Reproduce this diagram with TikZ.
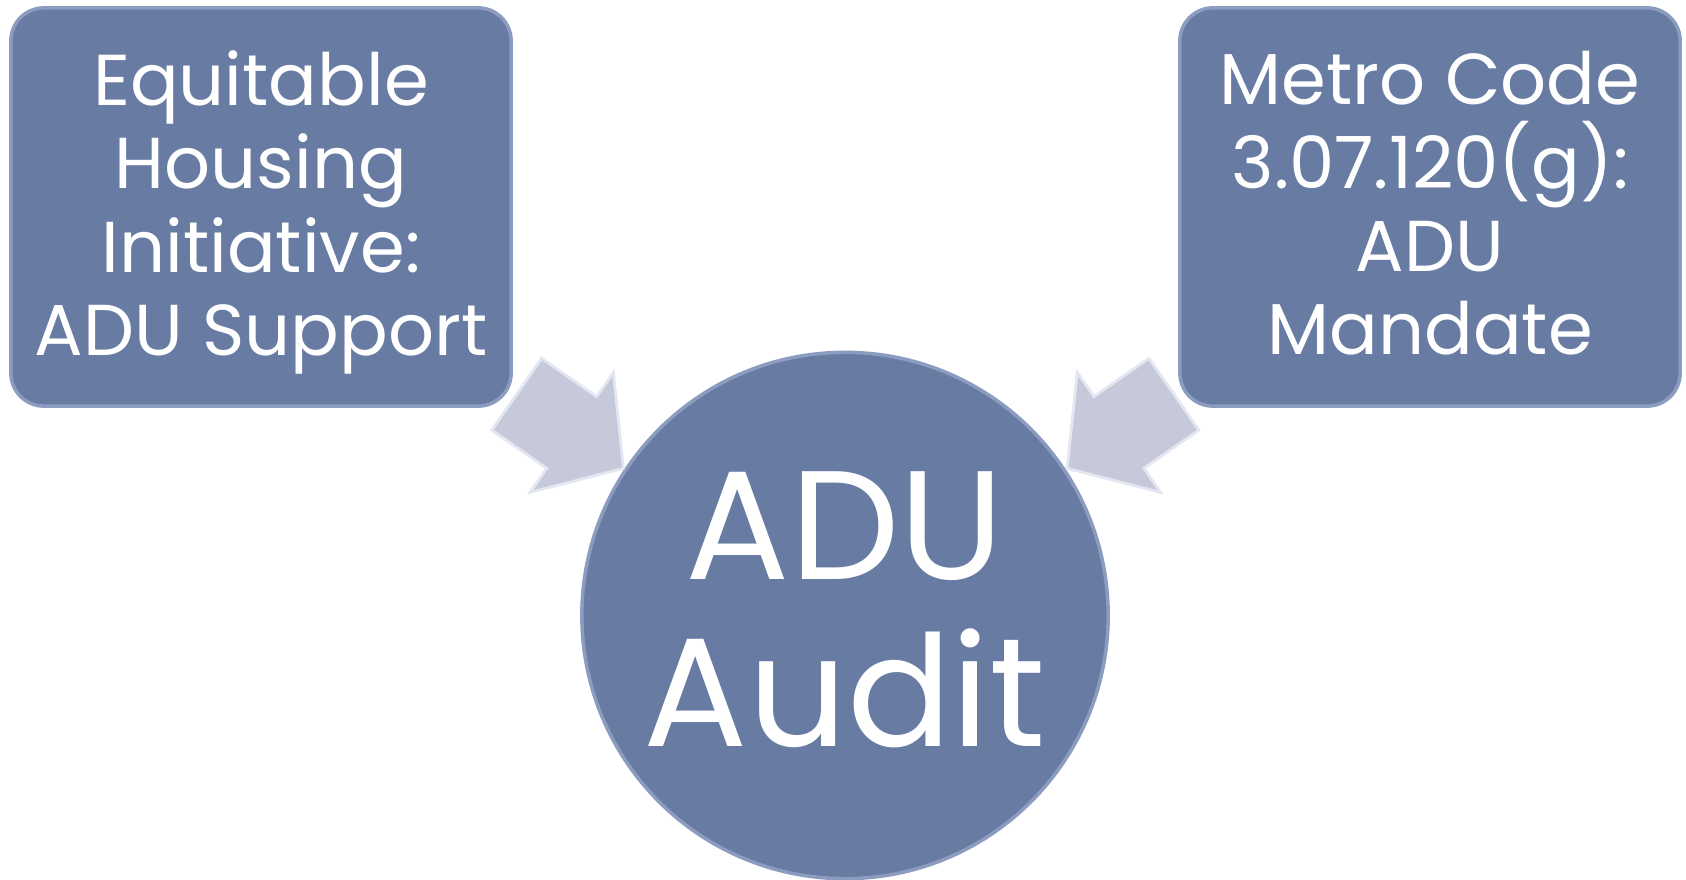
\documentclass[tikz,border=0pt]{standalone}
\usepackage{fontspec}
\setmainfont{Poppins}
\definecolor{slate}{RGB}{104,123,163}
\definecolor{slateedge}{RGB}{140,155,192}
\definecolor{arrowfill}{RGB}{197,201,217}
\definecolor{arrowedge}{RGB}{228,231,242}
\tikzset{
	blockarrow/.pic={
		\draw[line width=0.8pt, draw=arrowedge, fill=arrowfill, line join=miter]
			(0, -43.7) -- (67, -43.7) -- (67, -73) -- (130, 0) -- (67, 73) -- (67, 43.7) -- (0, 43.7) -- cycle;
	}
}

\begin{document}
\begin{tikzpicture}[x=0.01cm, y=0.01cm,
	box/.style={draw=slateedge, line width=1pt, fill=slate, rounded corners=0.33cm, minimum width=5cm, minimum height=3.98cm, text=white, align=center, text depth=0.08cm, font=\fontsize{20.5}{23.65}\selectfont},
	hub/.style={circle, draw=slateedge, line width=1pt, fill=slate, minimum size=5.26cm, inner sep=0, text=white, align=center, text depth=0.13cm, font=\fontsize{44}{47.4}\selectfont}]
	\useasboundingbox (0, 0) rectangle (1686, 879);

	\node[box] (initiative) at (261, 672) {Equitable\\Housing\\Initiative:\\ADU Support};
	\node[box] (mandate) at (1430, 672) {Metro Code\\3.07.120(g):\\ADU\\Mandate};
	\node[hub] (audit) at (845, 263.5) {ADU\\Audit};

	% block arrows into the circle
	\pic[rotate=-34.8] at (516.7, 484.8) {blockarrow};
	\pic[rotate=-145.2] at (1173.9, 484.8) {blockarrow};
\end{tikzpicture}
\end{document}
